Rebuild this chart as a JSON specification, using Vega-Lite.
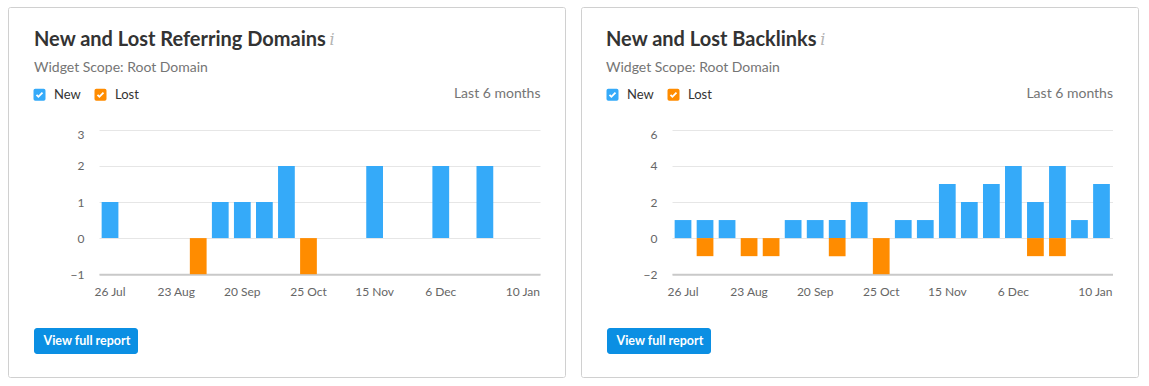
{
  "$schema": "https://vega.github.io/schema/vega-lite/v6.json",
  "padding": {"left": 7, "top": 6, "right": 0, "bottom": 0},
  "background": "white",
  "config": {
    "font": "Lato",
    "view": {"stroke": "#d0d0d0", "strokeWidth": 1, "cornerRadius": 2, "fill": "white"}
  },
  "datasets": {
    "domains": [
      {"week": 1, "type": "New", "value": 1},
      {"week": 5, "type": "Lost", "value": -1},
      {"week": 6, "type": "New", "value": 1},
      {"week": 7, "type": "New", "value": 1},
      {"week": 8, "type": "New", "value": 1},
      {"week": 9, "type": "New", "value": 2},
      {"week": 10, "type": "Lost", "value": -1},
      {"week": 13, "type": "New", "value": 2},
      {"week": 16, "type": "New", "value": 2},
      {"week": 18, "type": "New", "value": 2}
    ],
    "backlinks": [
      {"week": 1, "type": "New", "value": 1},
      {"week": 2, "type": "New", "value": 1},
      {"week": 2, "type": "Lost", "value": -1},
      {"week": 3, "type": "New", "value": 1},
      {"week": 4, "type": "Lost", "value": -1},
      {"week": 5, "type": "Lost", "value": -1},
      {"week": 6, "type": "New", "value": 1},
      {"week": 7, "type": "New", "value": 1},
      {"week": 8, "type": "New", "value": 1},
      {"week": 8, "type": "Lost", "value": -1},
      {"week": 9, "type": "New", "value": 2},
      {"week": 10, "type": "Lost", "value": -2},
      {"week": 11, "type": "New", "value": 1},
      {"week": 12, "type": "New", "value": 1},
      {"week": 13, "type": "New", "value": 3},
      {"week": 14, "type": "New", "value": 2},
      {"week": 15, "type": "New", "value": 3},
      {"week": 16, "type": "New", "value": 4},
      {"week": 17, "type": "New", "value": 2},
      {"week": 17, "type": "Lost", "value": -1},
      {"week": 18, "type": "New", "value": 4},
      {"week": 18, "type": "Lost", "value": -1},
      {"week": 19, "type": "New", "value": 1},
      {"week": 20, "type": "New", "value": 3}
    ]
  },
  "hconcat": [
    {
      "width": 557,
      "height": 370,
      "data": {"name": "domains"},
      "title": {
        "text": "New and Lost Referring Domains",
        "subtitle": "Widget Scope: Root Domain",
        "anchor": "start", "frame": "group", "dx": 26, "dy": 68, "offset": 0,
        "font": "Lato", "fontSize": 20, "fontWeight": 700, "color": "#333333",
        "subtitleFont": "Lato", "subtitleFontSize": 14, "subtitleColor": "#757575", "subtitlePadding": 11
      },
      "layer": [
        {
          "mark": {"type": "bar"},
          "encoding": {
            "x": {
              "field": "week", "type": "ordinal",
              "scale": {"domain": [1,2,3,4,5,6,7,8,9,10,11,12,13,14,15,16,17,18,19,20], "range": [91, 532], "paddingInner": 0.24, "paddingOuter": 0.12},
              "axis": {
                "orient": "bottom", "offset": -102.8, "grid": false, "ticks": false,
                "domain": true, "domainColor": "#c9c9c9", "domainWidth": 2,
                "labelAngle": 0, "labelPadding": 12, "labelFontSize": 12, "labelColor": "#666666", "labelOverlap": false,
                "labelExpr": "datum.value == 1 ? '26 Jul' : datum.value == 4 ? '23 Aug' : datum.value == 7 ? '20 Sep' : datum.value == 10 ? '25 Oct' : datum.value == 13 ? '15 Nov' : datum.value == 16 ? '6 Dec' : datum.value == 20 ? '10 Jan' : ''",
                "labelAlign": {"condition": {"test": "datum.value == 20", "value": "right"}, "value": "center"},
                "labelOffset": {"condition": {"test": "datum.value == 20", "value": 11}, "value": 0},
                "title": "Last 6 months", "titleX": 532, "titleY": -181.2, "titleAlign": "right", "titleBaseline": "middle",
                "titleFontSize": 14, "titleFontWeight": "normal", "titleColor": "#757575"
              }
            },
            "y": {
              "field": "value", "type": "quantitative",
              "scale": {"domain": [-1, 3], "range": [267.2, 122.8], "nice": false, "zero": false},
              "axis": {
                "orient": "left", "offset": -91, "values": [-1, 0, 1, 2, 3],
                "grid": true, "gridColor": "#e6e6e6", "domain": false, "ticks": false,
                "labelPadding": 15, "labelFontSize": 12, "labelColor": "#666666",
                "labelBaseline": {"condition": {"test": "datum.value == 3", "value": "top"}, "value": "middle"},
                "title": "i", "titleAngle": 0, "titleX": 232.5, "titleY": 37.5, "titleAlign": "center", "titleBaseline": "alphabetic",
                "titleFont": "DejaVu Serif", "titleFontStyle": "italic", "titleFontWeight": "normal", "titleFontSize": 16, "titleColor": "#b3b3b3"
              }
            },
            "y2": {"datum": 0},
            "color": {
              "field": "type", "type": "nominal",
              "scale": {"domain": ["New", "Lost"], "range": ["#35aaf9", "#ff8c00"]},
              "legend": {
                "orient": "none", "legendX": 25, "legendY": 81, "direction": "horizontal", "title": null,
                "symbolType": "M-1,-0.7Q-1,-1,-0.7,-1L0.7,-1Q1,-1,1,-0.7L1,0.7Q1,1,0.7,1L-0.7,1Q-1,1,-1,0.7ZM-0.61,0.12L-0.18,0.56L0.61,-0.25L0.39,-0.46L-0.18,0.14L-0.39,-0.08Z",
                "symbolSize": 144, "symbolStrokeWidth": 0, "symbolOpacity": 1,
                "labelFontSize": 13, "labelColor": "#333333", "labelOffset": 8, "columnPadding": 13, "padding": 0
              }
            }
          }
        },
        {
          "mark": {"type": "point", "opacity": 0},
          "encoding": {
            "shape": {
              "datum": "View full report",
              "legend": {
                "orient": "none", "legendX": 26, "legendY": 321, "title": null,
                "fillColor": "#0b8fe3", "cornerRadius": 3, "padding": 6.5,
                "labelColor": "white", "labelFontSize": 12.5, "labelFontWeight": 700,
                "symbolSize": 0, "symbolOpacity": 0, "symbolStrokeWidth": 0, "labelOffset": -9.5
              }
            }
          }
        }
      ]
    },
    {
      "width": 557,
      "height": 370,
      "data": {"name": "backlinks"},
      "title": {
        "text": "New and Lost Backlinks",
        "subtitle": "Widget Scope: Root Domain",
        "anchor": "start", "frame": "group", "dx": 25, "dy": 68, "offset": 0,
        "font": "Lato", "fontSize": 20, "fontWeight": 700, "color": "#333333",
        "subtitleFont": "Lato", "subtitleFontSize": 14, "subtitleColor": "#757575", "subtitlePadding": 11
      },
      "layer": [
        {
          "mark": {"type": "bar"},
          "encoding": {
            "x": {
              "field": "week", "type": "ordinal",
              "scale": {"domain": [1,2,3,4,5,6,7,8,9,10,11,12,13,14,15,16,17,18,19,20], "range": [91, 531.5], "paddingInner": 0.24, "paddingOuter": 0.12},
              "axis": {
                "orient": "bottom", "offset": -102.8, "grid": false, "ticks": false,
                "domain": true, "domainColor": "#c9c9c9", "domainWidth": 2,
                "labelAngle": 0, "labelPadding": 12, "labelFontSize": 12, "labelColor": "#666666", "labelOverlap": false,
                "labelExpr": "datum.value == 1 ? '26 Jul' : datum.value == 4 ? '23 Aug' : datum.value == 7 ? '20 Sep' : datum.value == 10 ? '25 Oct' : datum.value == 13 ? '15 Nov' : datum.value == 16 ? '6 Dec' : datum.value == 20 ? '10 Jan' : ''",
                "labelAlign": {"condition": {"test": "datum.value == 20", "value": "right"}, "value": "center"},
                "labelOffset": {"condition": {"test": "datum.value == 20", "value": 11}, "value": 0},
                "title": "Last 6 months", "titleX": 531.5, "titleY": -181.2, "titleAlign": "right", "titleBaseline": "middle",
                "titleFontSize": 14, "titleFontWeight": "normal", "titleColor": "#757575"
              }
            },
            "y": {
              "field": "value", "type": "quantitative",
              "scale": {"domain": [-2, 6], "range": [267.2, 122.8], "nice": false, "zero": false},
              "axis": {
                "orient": "left", "offset": -91, "values": [-2, 0, 2, 4, 6],
                "grid": true, "gridColor": "#e6e6e6", "domain": false, "ticks": false,
                "labelPadding": 15, "labelFontSize": 12, "labelColor": "#666666",
                "labelBaseline": {"condition": {"test": "datum.value == 6", "value": "top"}, "value": "middle"},
                "title": "i", "titleAngle": 0, "titleX": 150.3, "titleY": 37.5, "titleAlign": "center", "titleBaseline": "alphabetic",
                "titleFont": "DejaVu Serif", "titleFontStyle": "italic", "titleFontWeight": "normal", "titleFontSize": 16, "titleColor": "#b3b3b3"
              }
            },
            "y2": {"datum": 0},
            "color": {
              "field": "type", "type": "nominal",
              "scale": {"domain": ["New", "Lost"], "range": ["#35aaf9", "#ff8c00"]},
              "legend": {
                "orient": "none", "legendX": 25, "legendY": 81, "direction": "horizontal", "title": null,
                "symbolType": "M-1,-0.7Q-1,-1,-0.7,-1L0.7,-1Q1,-1,1,-0.7L1,0.7Q1,1,0.7,1L-0.7,1Q-1,1,-1,0.7ZM-0.61,0.12L-0.18,0.56L0.61,-0.25L0.39,-0.46L-0.18,0.14L-0.39,-0.08Z",
                "symbolSize": 144, "symbolStrokeWidth": 0, "symbolOpacity": 1,
                "labelFontSize": 13, "labelColor": "#333333", "labelOffset": 8, "columnPadding": 13, "padding": 0
              }
            }
          }
        },
        {
          "mark": {"type": "point", "opacity": 0},
          "encoding": {
            "shape": {
              "datum": "View full report",
              "legend": {
                "orient": "none", "legendX": 26, "legendY": 321, "title": null,
                "fillColor": "#0b8fe3", "cornerRadius": 3, "padding": 6.5,
                "labelColor": "white", "labelFontSize": 12.5, "labelFontWeight": 700,
                "symbolSize": 0, "symbolOpacity": 0, "symbolStrokeWidth": 0, "labelOffset": -9.5
              }
            }
          }
        }
      ]
    }
  ],
  "spacing": 16,
  "bounds": "flush",
  "resolve": {"scale": {"color": "independent", "shape": "independent"}}
}
